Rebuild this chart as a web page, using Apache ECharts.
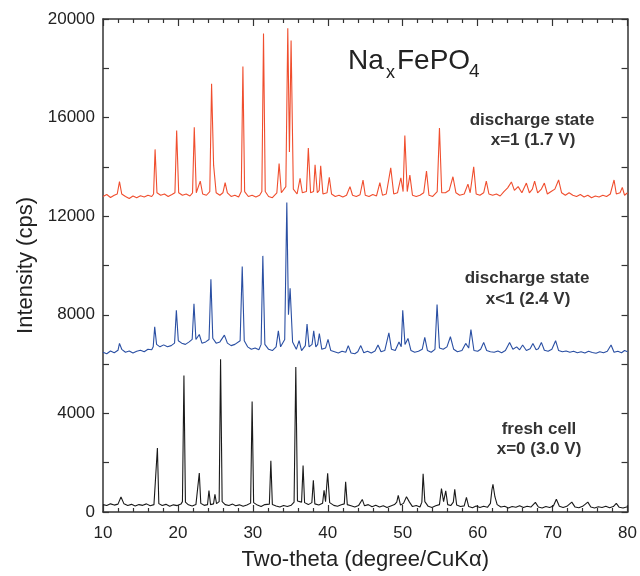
<!DOCTYPE html>
<html>
<head>
<meta charset="utf-8">
<script src="https://cdn.jsdelivr.net/npm/echarts@6/dist/echarts.min.js"></script>
<style>
  html, body { margin: 0; padding: 0; background: #fff; }
  #main { width: 640px; height: 576px; }
</style>
</head>
<body>
<div id="main"></div>
<script>
// x ticks and y ticks
var xTicks = [10, 20, 30, 40, 50, 60, 70, 80];
var yTicks = [0, 4000, 8000, 12000, 16000, 20000];

// discharge state x=1 (1.7 V)
var seriesDis17 = [[10,12800],[10.5,12880],[11,12760],[11.5,12850],[11.9,12900],[12.2,13400],[12.5,12900],[13,12800],[13.5,12720],[14,12820],[14.5,12750],[15,12830],[15.5,12780],[16,12850],[16.5,12800],[16.75,12900],[16.95,14710],[17.2,12950],[17.7,12850],[18.2,12900],[18.7,12800],[19.2,12880],[19.6,12950],[19.83,15475],[20.1,12950],[20.6,12850],[21.1,12900],[21.6,12820],[21.95,12950],[22.18,15610],[22.45,12950],[22.98,13425],[23.3,12900],[23.8,12850],[24.25,13000],[24.49,17375],[24.76,14070],[25.1,12950],[25.6,12850],[26.0,12950],[26.3,13360],[26.6,12950],[27.1,12800],[27.6,12850],[28.1,12780],[28.45,13000],[28.67,18070],[28.9,13000],[29.4,12800],[29.9,12850],[30.4,12780],[30.9,12850],[31.2,13000],[31.42,19410],[31.65,13000],[32.1,12800],[32.6,12750],[33.2,12950],[33.5,14140],[33.8,12950],[34.4,13200],[34.66,19625],[34.88,14600],[35.1,19130],[35.4,13100],[35.9,12900],[36.3,13535],[36.6,12950],[37.15,13000],[37.4,14765],[37.7,12950],[38.1,13000],[38.3,14085],[38.6,12950],[38.85,13050],[39.05,14045],[39.35,12900],[39.9,12950],[40.2,13575],[40.5,12900],[41,12800],[41.5,12850],[42,12780],[42.5,12850],[42.96,13200],[43.3,12850],[43.8,12800],[44.3,12870],[44.7,13465],[45.0,12850],[45.5,12800],[46,12880],[46.5,12820],[46.95,13360],[47.3,12850],[47.8,12900],[48.4,13960],[48.8,12900],[49.3,12950],[49.75,13560],[50.05,13000],[50.28,15275],[50.6,13000],[50.95,13665],[51.3,12850],[51.8,12800],[52.3,12850],[52.8,12950],[53.17,13830],[53.5,12850],[54.0,12800],[54.6,13000],[54.9,15580],[55.2,12950],[55.7,12950],[56.2,13050],[56.7,13600],[57.1,12950],[57.6,12850],[58.2,12900],[58.7,13300],[59.0,12950],[59.47,14000],[59.8,12900],[60.3,12850],[60.8,12950],[61.15,13425],[61.5,12900],[62,12850],[62.5,12900],[63,12820],[63.5,13000],[64.0,13150],[64.5,13390],[64.9,13050],[65.4,13200],[65.9,12950],[66.5,13345],[66.9,12950],[67.3,13100],[67.6,13425],[68.0,12950],[68.5,13100],[68.9,13345],[69.3,12900],[69.8,13000],[70.3,13100],[70.8,13470],[71.2,12950],[71.7,12850],[72.2,12950],[72.7,12850],[73.2,12800],[73.7,12880],[74.2,12780],[74.7,12850],[75.2,12750],[75.7,12820],[76.2,12780],[76.7,12850],[77.2,12800],[77.7,12900],[78.2,13470],[78.5,12900],[79.0,12950],[79.3,13170],[79.6,12850],[80,12950]];

// discharge state x<1 (2.4 V)
var seriesDis24 = [[10,6480],[10.5,6420],[11,6530],[11.5,6460],[12,6560],[12.2,6840],[12.5,6600],[13,6480],[13.5,6530],[14,6450],[14.5,6520],[15,6560],[15.5,6500],[16,6600],[16.5,6580],[16.7,6700],[16.9,7510],[17.15,6800],[17.6,6700],[18.1,6780],[18.6,6700],[19.1,6750],[19.55,6850],[19.79,8180],[20.05,6950],[20.5,6850],[21,6800],[21.5,6900],[21.9,7000],[22.14,8445],[22.4,7000],[22.85,7200],[23.2,6850],[23.7,6900],[24.15,7000],[24.4,9440],[24.65,7050],[25.1,6850],[25.6,6900],[26.2,7175],[26.6,6850],[27.1,6750],[27.6,6800],[28.3,6950],[28.58,9960],[28.85,6950],[29.3,6700],[29.8,6600],[30.3,6650],[30.8,6580],[31.1,6800],[31.33,10390],[31.6,6800],[32.1,6600],[32.6,6550],[33.1,6700],[33.4,7350],[33.7,6700],[34.25,7000],[34.53,12560],[34.75,8000],[34.97,9080],[35.3,6900],[35.8,6600],[36.17,6950],[36.5,6550],[37.0,6750],[37.23,7620],[37.5,6700],[37.9,6800],[38.12,7350],[38.4,6700],[38.65,6800],[38.87,7240],[39.2,6600],[39.7,6650],[40.03,7000],[40.4,6550],[40.9,6500],[41.4,6450],[41.9,6520],[42.4,6480],[42.73,6750],[43.1,6450],[43.6,6420],[44.0,6500],[44.4,6750],[44.8,6460],[45.3,6520],[45.8,6450],[46.3,6530],[46.7,6775],[47.1,6500],[47.6,6550],[48.15,7270],[48.5,6600],[49.0,6550],[49.5,6900],[49.8,6700],[50.0,8180],[50.3,6800],[50.7,7040],[51.1,6550],[51.6,6480],[52.1,6520],[52.6,6600],[52.94,7080],[53.3,6550],[53.8,6480],[54.3,6600],[54.58,8420],[54.9,6650],[55.4,6600],[55.9,6700],[56.36,7110],[56.8,6600],[57.3,6500],[57.9,6550],[58.4,6840],[58.8,6650],[59.1,7400],[59.5,6550],[60.0,6520],[60.4,6600],[60.8,6880],[61.2,6550],[61.7,6500],[62.2,6480],[62.7,6530],[63.2,6460],[63.7,6550],[64.26,6880],[64.7,6600],[65.2,6700],[65.6,6580],[66.0,6775],[66.5,6550],[67.0,6620],[67.37,6840],[67.8,6580],[68.1,6620],[68.5,6880],[68.9,6560],[69.4,6520],[69.9,6600],[70.4,6950],[70.8,6550],[71.3,6500],[71.8,6530],[72.3,6480],[72.8,6520],[73.3,6460],[73.8,6500],[74.3,6450],[74.8,6520],[75.3,6470],[75.8,6440],[76.3,6500],[76.8,6460],[77.3,6520],[77.8,6775],[78.2,6480],[78.7,6520],[79.2,6460],[79.6,6550],[80,6500]];

// fresh cell x=0 (3.0 V)
var seriesFresh = [[10,300],[10.5,260],[11,330],[11.5,280],[12,320],[12.4,610],[12.8,330],[13.3,260],[13.8,310],[14.3,240],[14.8,300],[15.3,270],[15.8,330],[16.3,250],[16.8,300],[17.05,350],[17.26,2600],[17.45,340],[17.9,260],[18.4,310],[18.9,230],[19.4,290],[19.9,260],[20.4,320],[20.6,420],[20.8,5540],[21.0,400],[21.4,290],[21.9,240],[22.4,300],[22.65,380],[22.85,1580],[23.05,350],[23.5,270],[23.95,300],[24.14,870],[24.35,300],[24.75,330],[24.94,720],[25.15,340],[25.5,420],[25.69,6200],[25.9,420],[26.3,300],[26.8,260],[27.3,320],[27.7,250],[28.2,290],[28.7,230],[29.2,280],[29.7,360],[29.9,4480],[30.1,380],[30.6,280],[31.1,220],[31.6,300],[32.2,320],[32.4,2075],[32.6,300],[33.1,240],[33.6,200],[34.1,260],[34.6,220],[35.1,270],[35.5,400],[35.73,5880],[35.95,450],[36.5,400],[36.7,1890],[36.9,380],[37.4,300],[37.87,380],[38.07,1285],[38.27,330],[38.8,280],[39.3,350],[39.5,880],[39.7,420],[39.98,1570],[40.25,380],[40.8,270],[41.3,230],[41.8,290],[42.2,330],[42.38,1230],[42.6,300],[43.1,250],[43.6,200],[44.1,260],[44.6,510],[44.9,250],[45.4,300],[45.9,210],[46.4,270],[46.9,200],[47.4,250],[47.9,180],[48.4,240],[48.9,300],[49.2,400],[49.4,670],[49.7,280],[50.1,350],[50.5,615],[50.9,400],[51.3,220],[51.8,260],[52.3,200],[52.55,400],[52.72,1550],[52.95,420],[53.4,230],[53.9,180],[54.4,250],[54.9,300],[55.17,950],[55.45,420],[55.74,860],[56.0,300],[56.4,260],[56.75,400],[56.94,920],[57.2,280],[57.7,220],[58.2,250],[58.5,590],[58.8,220],[59.3,170],[59.8,240],[60.3,180],[60.8,230],[61.3,190],[61.7,350],[61.9,900],[62.04,1125],[62.3,620],[62.6,300],[63.1,200],[63.6,230],[64.1,160],[64.6,220],[65.1,190],[65.6,250],[66.1,180],[66.6,230],[67.1,200],[67.7,390],[68.1,200],[68.6,160],[69.1,220],[69.6,180],[70.1,240],[70.5,520],[70.9,230],[71.4,180],[71.9,230],[72.56,400],[73.0,200],[73.5,170],[74.0,230],[74.7,400],[75.1,200],[75.6,160],[76.1,210],[76.6,180],[77.1,230],[77.6,170],[78.1,220],[78.5,350],[78.9,190],[79.4,160],[80,210]];

var FONT = '"Liberation Sans", Arial, sans-serif';
var axisColor = '#333';

var myChart = echarts.init(document.getElementById('main'));

function xAx(pos, showLabel) {
  return {
    type: 'value',
    position: pos,
    min: xTicks[0],
    max: xTicks[xTicks.length - 1],
    interval: 10,
    axisLine: { show: true, onZero: false, lineStyle: { color: axisColor, width: 1.5 } },
    axisTick: { show: true, inside: true, length: 7, lineStyle: { color: axisColor, width: 1.2 } },
    minorTick: { show: true, splitNumber: 5, length: 4, lineStyle: { color: axisColor, width: 1.2 } },
    axisLabel: { show: showLabel, margin: 13, fontSize: 17, color: '#222', fontFamily: FONT },
    splitLine: { show: false },
    name: showLabel ? 'Two-theta (degree/CuK\u03b1)' : '',
    nameLocation: 'middle',
    nameGap: 37,
    nameTextStyle: { fontSize: 22, color: '#222', fontFamily: FONT }
  };
}

function yAx(pos, showLabel) {
  return {
    type: 'value',
    position: pos,
    min: yTicks[0],
    max: yTicks[yTicks.length - 1],
    interval: 4000,
    axisLine: { show: true, onZero: false, lineStyle: { color: axisColor, width: 1.5 } },
    axisTick: { show: true, inside: true, length: 6, lineStyle: { color: axisColor, width: 1.2 } },
    minorTick: { show: true, splitNumber: 2, length: 6, lineStyle: { color: axisColor, width: 1.2 } },
    axisLabel: { show: showLabel, margin: 8, fontSize: 17, color: '#222', fontFamily: FONT,
                 formatter: function (v) { return String(v); } },
    splitLine: { show: false },
    name: showLabel ? 'Intensity (cps)' : '',
    nameLocation: 'middle',
    nameGap: 64,
    nameRotate: 90,
    nameTextStyle: { fontSize: 22, color: '#222', fontFamily: FONT }
  };
}

function txt(x, y, s, size, bold, color) {
  return {
    type: 'text',
    x: x, y: y,
    style: {
      text: s,
      fill: color || '#333',
      font: (bold ? 'bold ' : '') + size + 'px ' + FONT,
      textAlign: 'center',
      textVerticalAlign: 'middle'
    }
  };
}

function txtL(x, y, s, size) {
  return {
    type: 'text',
    x: x, y: y,
    style: {
      text: s,
      fill: '#222',
      font: size + 'px ' + FONT,
      textAlign: 'left',
      textVerticalAlign: 'middle'
    }
  };
}

myChart.setOption({
  animation: false,
  grid: { left: 103, right: 12, top: 19, bottom: 59, containLabel: false },
  xAxis: [xAx('bottom', true), xAx('top', false)],
  yAxis: [yAx('left', true), yAx('right', false)],
  series: [
    { name: 'x=1 (1.7 V)', type: 'line', xAxisIndex: 0, yAxisIndex: 0, showSymbol: false,
      data: seriesDis17, lineStyle: { color: '#f04e2e', width: 1.1 } },
    { name: 'x<1 (2.4 V)', type: 'line', xAxisIndex: 0, yAxisIndex: 0, showSymbol: false,
      data: seriesDis24, lineStyle: { color: '#2a4fa3', width: 1.1 } },
    { name: 'x=0 (3.0 V)', type: 'line', xAxisIndex: 0, yAxisIndex: 0, showSymbol: false,
      data: seriesFresh, lineStyle: { color: '#1a1a1a', width: 1.1 } }
  ],
  graphic: [
    txtL(348, 61, 'Na', 28),
    txtL(386, 73, 'x', 18),
    txtL(397, 61, 'FePO', 28),
    txtL(469, 72, '4', 19),
    txt(532, 120, 'discharge state', 17, true),
    txt(533, 140, 'x=1 (1.7 V)', 17, true),
    txt(527, 278, 'discharge state', 17, true),
    txt(528, 299, 'x<1 (2.4 V)', 17, true),
    txt(539, 429, 'fresh cell', 17, true),
    txt(539, 449, 'x=0 (3.0 V)', 17, true)
  ]
});
</script>
</body>
</html>
